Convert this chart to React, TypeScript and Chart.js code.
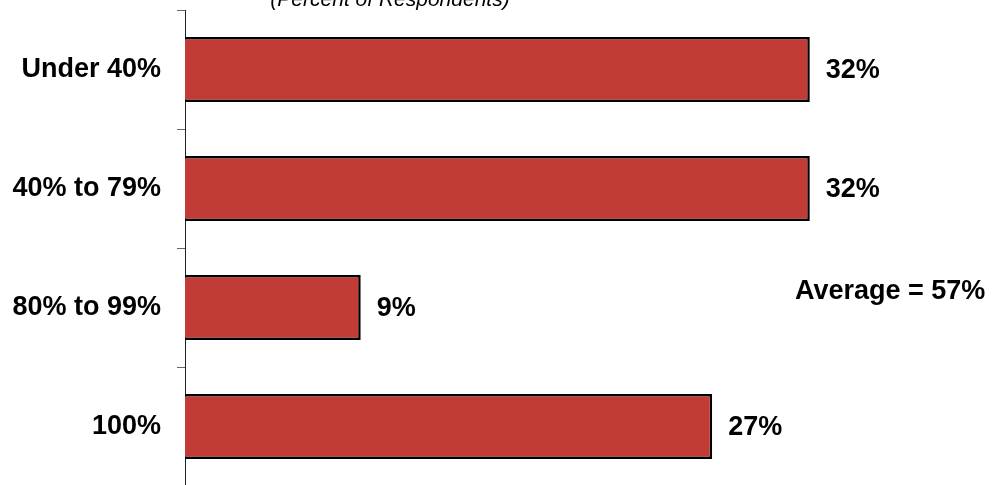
import React, { useEffect, useRef } from "react";
import { Chart, registerables } from "chart.js";

Chart.register(...registerables);

const categories = ["Under 40%", "40% to 79%", "80% to 99%", "100%"];
const values = [32, 32, 9, 27];
const valueLabels = ["32%", "32%", "9%", "27%"];
const titleText = "(Percent of Respondents)";
const averageText = "Average = 57%";

const FONT = "'Liberation Sans', Arial, sans-serif";

const labelPlugin = {
  id: "customLabels",
  afterDatasetsDraw(chart: any) {
    const ctx = chart.ctx;
    const meta = chart.getDatasetMeta(0);
    ctx.save();
    ctx.fillStyle = "#000";
    ctx.font = `bold 27px ${FONT}`;
    ctx.textAlign = "left";
    ctx.textBaseline = "middle";
    meta.data.forEach((el: any, i: number) => {
      ctx.fillText(valueLabels[i], el.x + 16, el.y + 1);
    });
    ctx.textBaseline = "alphabetic";
    ctx.fillText(averageText, 795, 299);
    ctx.font = `italic 21px ${FONT}`;
    ctx.textAlign = "center";
    ctx.fillText(titleText, 390, 6);
    ctx.restore();
  },
};

export default function App() {
  const ref = useRef<HTMLCanvasElement>(null);
  useEffect(() => {
    const chart = new Chart(ref.current!, {
      type: "bar",
      data: {
        labels: categories,
        datasets: [
          {
            data: values,
            backgroundColor: "#C23B34",
            borderColor: "#000",
            borderWidth: 2.5,
            barPercentage: 0.546,
            categoryPercentage: 1,
          },
        ],
      },
      options: {
        indexAxis: "y",
        responsive: false,
        animation: false,
        layout: { padding: { top: 10, bottom: 14, right: 29, left: 0 } },
        plugins: { legend: { display: false }, tooltip: { enabled: false }, title: { display: false } },
        scales: {
          x: { display: false, min: 0, max: 40 },
          y: {
            afterFit: (s: any) => {
              s.width = 185;
              s.paddingTop = 0;
              s.paddingBottom = 0;
            },
            grid: {
              drawOnChartArea: false,
              drawTicks: true,
              tickLength: 8,
              color: "#666",
              offset: true,
            },
            border: { display: true, color: "#222", width: 1 },
            ticks: {
              color: "#000",
              padding: 16,
              font: { family: FONT, size: 27, weight: "bold" },
            },
          },
        },
      },
      plugins: [labelPlugin],
    });
    return () => chart.destroy();
  }, []);
  return (
    <div style={{ position: "fixed", left: 0, top: 0, width: 995, height: 485, overflow: "hidden", background: "#fff" }}>
      <canvas ref={ref} width={995} height={500} style={{ display: "block" }} />
    </div>
  );
}
